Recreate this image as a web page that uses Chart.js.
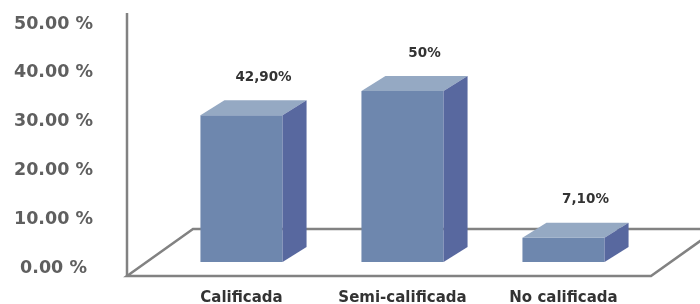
<!DOCTYPE html>
<html>
<head>
<meta charset="utf-8">
<script src="https://cdn.jsdelivr.net/npm/chart.js@4/dist/chart.umd.min.js"></script>
<style>
  body { margin: 0; background: #fff; }
  #chart { display: block; }
</style>
</head>
<body>
<canvas id="chart" width="700" height="304"></canvas>
<script>
// Chart data
const categories = ['Calificada', 'Semi-calificada', 'No calificada'];
const shares = [42.9, 50, 7.1];
const shareLabels = ['42,90%', '50%', '7,10%'];
const axisTicks = [0, 10, 20, 30, 40, 50];

// Colours of the 3D boxes
const frontColor = '#6e87ae';
const topColor = '#95a9c3';
const sideColor = '#58689f';
const lineColor = '#828282';

// depth of the box faces and of the floor
const boxDepth = { x: 24, y: 15 };
const floorDepth = { x: 66, y: 47 };

// Draws the floor behind the bars and the side/top faces on them
const box3d = {
  id: 'box3d',
  beforeDatasetsDraw(chart) {
    const ctx = chart.ctx;
    const area = chart.chartArea;
    const front = area.bottom + 8;
    const left = area.left - 34;
    const right = area.right + 7;
    ctx.save();
    ctx.strokeStyle = lineColor;
    ctx.lineWidth = 2.5;
    ctx.beginPath();
    ctx.moveTo(left, front);
    ctx.lineTo(right, front);
    ctx.lineTo(right + floorDepth.x, front - floorDepth.y);
    ctx.lineTo(left + floorDepth.x, front - floorDepth.y);
    ctx.closePath();
    ctx.stroke();
    ctx.restore();
  },
  afterDatasetsDraw(chart) {
    const ctx = chart.ctx;
    const meta = chart.getDatasetMeta(0);
    ctx.save();
    meta.data.forEach((bar, i) => {
      const { x, y, base, width } = bar.getProps(['x', 'y', 'base', 'width'], true);
      const l = x - width / 2;
      const r = x + width / 2;
      // top face
      ctx.fillStyle = topColor;
      ctx.beginPath();
      ctx.moveTo(l, y);
      ctx.lineTo(l + boxDepth.x, y - boxDepth.y);
      ctx.lineTo(r + boxDepth.x, y - boxDepth.y);
      ctx.lineTo(r, y);
      ctx.closePath();
      ctx.fill();
      // side face
      ctx.fillStyle = sideColor;
      ctx.beginPath();
      ctx.moveTo(r, y);
      ctx.lineTo(r + boxDepth.x, y - boxDepth.y);
      ctx.lineTo(r + boxDepth.x, base - boxDepth.y);
      ctx.lineTo(r, base);
      ctx.closePath();
      ctx.fill();
      // value label
      ctx.fillStyle = '#333';
      ctx.font = 'bold 13.5px "DejaVu Sans"';
      ctx.textAlign = 'center';
      ctx.textBaseline = 'middle';
      ctx.fillText(shareLabels[i], x + 22, y - 38);
    });
    ctx.restore();
  },
  afterDraw(chart) {
    const ctx = chart.ctx;
    const area = chart.chartArea;
    ctx.save();
    ctx.strokeStyle = lineColor;
    ctx.lineWidth = 2.5;
    ctx.beginPath();
    ctx.moveTo(area.left - 34, area.top - 11);
    ctx.lineTo(area.left - 34, area.bottom + 9);
    ctx.stroke();
    ctx.restore();
  }
};

const ctx = document.getElementById('chart').getContext('2d');
const shareChart = new Chart(ctx, {
  type: 'bar',
  data: {
    labels: categories,
    datasets: [{
      data: shares,
      yAxisID: 'yBar',
      backgroundColor: frontColor,
      borderWidth: 0,
      barPercentage: 0.51,
      categoryPercentage: 1
    }]
  },
  options: {
    responsive: false,
    animation: false,
    layout: { padding: { top: 24, right: 56, left: 0, bottom: 0 } },
    plugins: {
      legend: { display: false },
      tooltip: { enabled: false }
    },
    scales: {
      x: {
        grid: { display: false, drawTicks: false },
        border: { display: false },
        ticks: {
          color: '#333',
          padding: 21,
          font: { family: 'DejaVu Sans', size: 15, weight: 'bold' }
        },
        afterFit(scale) { scale.height = 36; }
      },
      y: {
        position: 'left',
        min: axisTicks[0],
        max: axisTicks[axisTicks.length - 1],
        afterBuildTicks(scale) { scale.ticks = axisTicks.map(v => ({ value: v })); },
        grid: { display: false, drawTicks: false },
        border: { display: false },
        ticks: {
          color: '#5f5f5f',
          crossAlign: 'center',
          padding: 68,
          font: { family: 'DejaVu Sans', size: 17.5, weight: 'bold' },
          callback: v => v.toFixed(2) + ' %'
        },
        afterFit(scale) {
          scale.width = 161;
          scale.paddingTop = 10;
          scale.paddingBottom = 10;
        }
      },
      // the boxes are drawn in perspective, shorter than the axis scale
      yBar: {
        display: false,
        min: -1.75,
        max: 69.6
      }
    }
  },
  plugins: [box3d]
});
</script>
</body>
</html>
